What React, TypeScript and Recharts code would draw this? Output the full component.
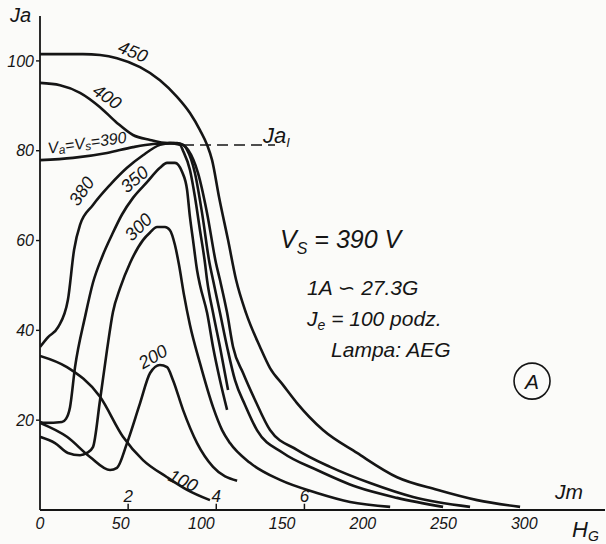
import React from 'react';
import { LineChart, Line, XAxis, YAxis, ReferenceLine, ReferenceDot } from 'recharts';

// Axis ticks
const hTicks = [0, 50, 100, 150, 200, 250, 300]; // H_G [gauss]
const jTicks = [20, 40, 60, 80, 100]; // J_a [podz.]
const jmTicks = [2, 4, 6]; // J_m [A]
const gaussPerAmp = 27.3; // 1A ~ 27.3G
const jaI = 81.3; // J_aI level

// Curves: [H_G, J_a]
const c450: [number, number][] = [
  [0, 101.5], [26.6, 101.5], [37.2, 101.3], [47.7, 100.6], [62.0, 98.6], [74.3, 95.7],
  [84.9, 92.0], [92.9, 88.4], [99.1, 84.6], [103.5, 81.3], [106.6, 77.9], [110.9, 69.7],
  [116.5, 60.1], [121.5, 51.2], [127.6, 43.9], [136.3, 36.3], [142.5, 31.6], [150.6, 27.8],
  [159.2, 23.8], [175.3, 17.8], [196.4, 12.7], [221.2, 7.3], [246.0, 4.5], [270.8, 2.2], [297.4, 0.7],
];
const c400: [number, number][] = [
  [0, 95.1], [12.4, 94.6], [24.8, 92.9], [37.2, 89.7], [47.7, 86.2], [57.6, 83.5], [68.2, 82.4],
  [78.7, 81.7], [84.9, 81.7], [88.6, 81.3], [91.7, 80.2], [97.9, 75.0], [103.5, 66.1], [109.0, 55.0],
  [111.5, 51.2], [115.9, 43.9], [119.6, 36.3], [125.8, 30.5], [133.2, 24.5], [142.5, 17.8],
  [159.2, 13.4], [179.7, 9.6], [204.5, 6.0], [231.1, 2.9], [266.4, 0.7],
];
const c390: [number, number][] = [
  [0, 77.9], [20.4, 78.4], [41.5, 79.5], [57.6, 80.8], [70.0, 81.5], [82.4, 81.7], [88.6, 81.3],
  [91.1, 80.2], [96.0, 75.0], [100.4, 66.1], [105.0, 55.0], [107.2, 51.2], [111.5, 43.9],
  [115.9, 36.3], [120.8, 28.9], [127.0, 23.4], [134.4, 17.8], [150.6, 12.7], [171.6, 8.9],
  [196.4, 5.1], [221.2, 2.7], [249.7, 0.7],
];
const c380: [number, number][] = [
  [0, 36.3], [5.0, 38.5], [11.2, 40.7], [17.3, 46.8], [21.1, 57.9], [24.8, 63.5], [32.8, 67.9],
  [43.4, 72.4], [53.9, 76.2], [63.8, 79.0], [74.3, 81.3], [80.5, 81.7], [86.7, 81.3], [88.6, 80.0],
  [92.9, 75.7], [96.0, 69.7], [99.1, 62.3], [102.2, 55.0], [103.5, 51.2], [107.2, 43.9],
  [111.5, 36.3], [116.5, 26.7],
];
const c350: [number, number][] = [
  [0, 19.6], [3.1, 19.4], [13.6, 19.6], [16.1, 20.3], [18.6, 22.9], [21.7, 31.8], [27.9, 43.0],
  [32.8, 50.6], [38.4, 56.3], [44.6, 61.3], [50.8, 65.8], [57.6, 69.5], [66.3, 73.0], [74.3, 76.2],
  [78.7, 77.3], [83.6, 77.3], [88.0, 75.3], [91.1, 71.3], [92.9, 65.2], [94.8, 60.1], [97.3, 53.4],
  [99.1, 50.1], [103.5, 43.9], [107.2, 36.3], [111.5, 28.9], [115.9, 22.3],
];
const c300: [number, number][] = [
  [0, 16.3], [9.3, 14.9], [17.3, 12.7], [24.8, 12.2], [29.1, 12.7], [32.8, 14.0], [37.2, 24.5],
  [41.5, 35.6], [45.2, 44.1], [49.6, 49.4], [55.8, 55.0], [63.8, 60.1], [68.2, 61.8], [72.5, 63.0],
  [77.4, 63.0], [80.5, 62.3], [83.6, 59.0], [86.1, 54.6], [89.2, 47.9], [92.9, 41.2], [99.1, 32.7],
  [107.2, 22.9], [112.8, 17.8], [117.7, 14.9], [130.1, 10.5], [148.7, 6.7], [171.6, 3.8],
  [192.1, 1.8], [216.9, 0.7],
];
const c200: [number, number][] = [
  [0, 19.4], [16.7, 16.3], [31.0, 11.8], [43.4, 8.9], [47.7, 9.4], [53.9, 14.9], [62.0, 23.8],
  [68.2, 30.5], [74.3, 32.3], [78.7, 31.8], [82.4, 28.9], [88.6, 22.3], [97.3, 14.9], [107.2, 9.6],
  [122.1, 6.5],
];
const c100: [number, number][] = [
  [0, 34.3], [16.7, 31.8], [37.2, 25.2], [51.4, 16.3], [63.8, 11.1], [78.7, 7.3], [91.1, 4.5], [105.3, 2.2],
];

const curves = [c450, c400, c390, c380, c350, c300, c200, c100];
const rows = (c: [number, number][]) => c.map(([h, j]) => ({ h, j }));

const FONT = '"Liberation Sans", "DejaVu Sans", Arial, sans-serif';
const INK = '#151515';

function tag(
  key: string,
  h: number,
  j: number,
  size: number,
  content: React.ReactNode,
  angle = 0,
  anchor: 'start' | 'middle' | 'end' = 'middle',
  baseline: 'central' | 'auto' = 'central'
) {
  return (
    <ReferenceDot
      key={key}
      x={h}
      y={j}
      r={0}
      ifOverflow="visible"
      shape={(p: any) => (
        <text
          x={p.cx}
          y={p.cy}
          fontSize={size}
          fontFamily={FONT}
          fontStyle="italic"
          fill={INK}
          textAnchor={anchor}
          dominantBaseline={baseline}
          transform={angle ? `rotate(${angle} ${p.cx} ${p.cy})` : undefined}
        >
          {content}
        </text>
      )}
    />
  );
}

export default function App() {
  return (
    <div style={{ position: 'absolute', left: 0, top: 0, width: 606, height: 544, background: '#fbfbf9' }}>
      <LineChart width={606} height={544} margin={{ top: 16, right: 1, bottom: 0, left: 0 }}>
        <XAxis
          dataKey="h"
          type="number"
          domain={[0, 350]}
          ticks={hTicks}
          allowDataOverflow
          height={34}
          tickLine={false}
          tickSize={6}
          tickMargin={2}
          axisLine={{ stroke: INK, strokeWidth: 1.8 }}
          tick={{ fill: INK, fontSize: 16, fontStyle: 'italic', fontFamily: FONT }}
        />
        <YAxis
          type="number"
          domain={[0, 110]}
          ticks={jTicks}
          allowDataOverflow
          width={40}
          tickSize={4}
          tickMargin={2}
          axisLine={{ stroke: INK, strokeWidth: 1.8 }}
          tickLine={{ stroke: INK, strokeWidth: 1.4 }}
          tick={{ fill: INK, fontSize: 16, fontStyle: 'italic', fontFamily: FONT }}
        />
        {jmTicks.map((m) => (
          <ReferenceLine
            key={`jmt${m}`}
            segment={[{ x: m * gaussPerAmp, y: 0 }, { x: m * gaussPerAmp, y: 1.4 }]}
            stroke={INK}
            strokeWidth={1.5}
            ifOverflow="visible"
          />
        ))}
        {jmTicks.map((m) => tag(`jml${m}`, m * gaussPerAmp, 1.7, 17, String(m), 0, 'middle', 'auto'))}
        <ReferenceLine
          segment={[{ x: 88.6, y: jaI }, { x: 145.6, y: jaI }]}
          stroke={INK}
          strokeWidth={1.5}
          strokeDasharray="11 6"
          ifOverflow="visible"
        />
        {curves.map((c, i) => (
          <Line
            key={i}
            data={rows(c)}
            dataKey="j"
            type="monotone"
            stroke={INK}
            strokeWidth={2.6}
            dot={false}
            activeDot={false}
            isAnimationActive={false}
          />
        ))}
        {tag('l450', 57.6, 102.0, 18, '450', 22)}
        {tag('l400', 41.5, 92.0, 18, '400', 35)}
        {tag('l390', 29.1, 81.9, 16, (
          <>
            <tspan>V</tspan>
            <tspan dy={4} fontSize={12}>a</tspan>
            <tspan dy={-4}>=V</tspan>
            <tspan dy={4} fontSize={12}>s</tspan>
            <tspan dy={-4}>=390</tspan>
          </>
        ), -8)}
        {tag('l380', 25.8, 71.0, 18, '380', -55)}
        {tag('l350', 58.6, 73.6, 18, '350', -40)}
        {tag('l300', 61.0, 63.0, 18, '300', -45)}
        {tag('l200', 70.0, 34.1, 18, '200', -30)}
        {tag('l100', 88.6, 6.5, 18, '100', 25)}
        {tag('jaI', 138.2, 81.7, 22, (
          <>
            <tspan>Ja</tspan>
            <tspan dy={4} fontSize={13}>I</tspan>
          </>
        ), 0, 'start', 'auto')}
        {tag('ja', -18.6, 108.7, 20, 'Ja', 0, 'start', 'auto')}
        {tag('jm', 319.1, 2.4, 21, 'Jm', 0, 'start', 'auto')}
        {tag('hg', 329.6, -6.0, 22, (
          <>
            <tspan>H</tspan>
            <tspan dy={4} fontSize={14}>G</tspan>
          </>
        ), 0, 'start', 'auto')}
        {tag('vs', 148.7, 58.3, 25, (
          <>
            <tspan>V</tspan>
            <tspan dy={6} fontSize={16}>S</tspan>
            <tspan dy={-6}> = 390 V</tspan>
          </>
        ), 0, 'start', 'auto')}
        {tag('amp', 165.4, 47.9, 21, '1A ∽ 27.3G', 0, 'start', 'auto')}
        {tag('je', 165.4, 40.9, 21, (
          <>
            <tspan>J</tspan>
            <tspan dy={4} fontSize={14}>e</tspan>
            <tspan dy={-4}> = 100 podz.</tspan>
          </>
        ), 0, 'start', 'auto')}
        {tag('lamp', 180.3, 34.1, 21, 'Lampa: AEG', 0, 'start', 'auto')}
        <ReferenceDot x={304.8} y={28.7} r={18} ifOverflow="visible" fill="none" stroke={INK} strokeWidth={1.6} />
        {tag('circA', 304.8, 28.7, 21, 'A')}
      </LineChart>
    </div>
  );
}
